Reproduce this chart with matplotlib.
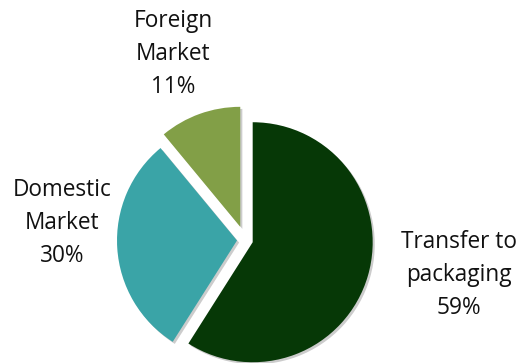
import matplotlib.pyplot as plt
import matplotlib.patheffects as pe

labels = ["Transfer to\npackaging", "Domestic\nMarket", "Foreign\nMarket"]
shares = [59, 30, 11]
colors = ["#063806", "#3aa4a7", "#829f47"]

plt.rcParams["font.family"] = ["Open Sans", "DejaVu Sans"]

fig = plt.figure(figsize=(5.23, 3.63), dpi=100)
ax = fig.add_axes([0, 0, 1, 1])

# work in pixel-like units so the pie sits where we want it
center = (245, 123)
radius = 120
explode = [8, 8, 14]

wedges, _ = ax.pie(
    shares,
    colors=colors,
    startangle=90,
    counterclock=False,
    radius=radius,
    center=center,
    explode=explode,
    frame=True,
)
for w in wedges:
    w.set_path_effects([
        pe.SimplePatchShadow(offset=(1.5, -1.5), shadow_rgbFace="#9a9a9a", alpha=0.5),
        pe.Normal(),
    ])
ax.set_xlim(0, 523)
ax.set_ylim(0, 363)
ax.set_aspect("equal")
ax.axis("off")

label_pos = [(459, 363 - 275), (62, 363 - 223), (173, 363 - 54)]
for lab, val, (x, y) in zip(labels, shares, label_pos):
    ax.text(x, y, f"{lab}\n{val}%", ha="center", va="center",
            fontsize=16.3, linespacing=1.5, color="#111111")

fig.savefig("out.png", dpi=100)
